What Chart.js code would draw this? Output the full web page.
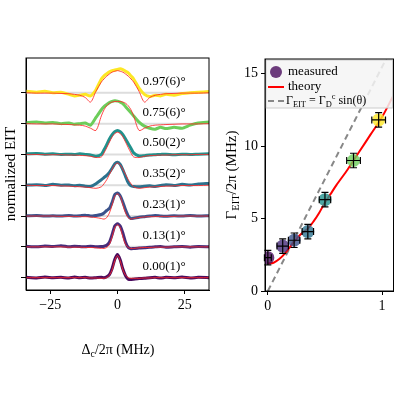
<!DOCTYPE html>
<html>
<head>
<meta charset="utf-8">
<script src="https://cdn.jsdelivr.net/npm/chart.js@4/dist/chart.umd.min.js"></script>
<style>
  body { margin: 0; background: #fff; }
  #wrap { position: relative; width: 400px; height: 400px; }
  .panel { position: absolute; top: 0; height: 400px; }
</style>
</head>
<body>
<div id="wrap">
  <div class="panel" style="left:0;width:215px"><canvas id="left"></canvas></div>
  <div class="panel" style="left:215px;width:185px"><canvas id="right"></canvas></div>
</div>
<script>
const FONT = '"Liberation Serif", "DejaVu Serif", serif'

// detuning grid (MHz)
const xs = [-34, -30, -27, -24, -21, -18, -16, -14, -12, -10, -8, -6, -5, -4, -3, -2, -1, 0,
  1, 2, 3, 4, 5, 6, 8, 10, 12, 14, 16, 18, 21, 24, 27, 30, 34]

const angleLabels = ['0.00(1)°', '0.13(1)°', '0.23(1)°', '0.35(2)°', '0.50(2)°', '0.75(6)°', '0.97(6)°']
const colors = ['#4a0c5e', '#472d7b', '#3b528b', '#2c728e', '#21918c', '#6ccd5a', '#fde725']

const measured = [
  [0.01, -0.01, 0.02, 0.00, 0.01, -0.01, 0.02, 0.00, 0.01, -0.01, 0.00, 0.01, 0.00, 0.03, 0.10, 0.30, 0.60, 0.75, 0.58, 0.28, 0.06, -0.05, -0.06, -0.05, -0.03, -0.02, 0.00, 0.01, -0.01, 0.01, 0.00, 0.02, -0.01, 0.01, 0.00],
  [0.02, 0.00, 0.03, 0.01, 0.04, 0.00, 0.02, 0.01, 0.00, 0.02, 0.00, 0.01, 0.02, 0.05, 0.15, 0.40, 0.68, 0.75, 0.68, 0.45, 0.15, -0.02, -0.06, -0.05, -0.04, -0.03, -0.01, 0.00, 0.01, -0.01, 0.00, 0.01, -0.01, 0.01, 0.00],
  [0.01, 0.02, 0.00, 0.01, 0.00, 0.02, 0.00, 0.01, 0.03, 0.00, 0.02, 0.05, 0.10, 0.18, 0.25, 0.45, 0.70, 0.75, 0.66, 0.45, 0.20, 0.00, -0.08, -0.07, -0.04, -0.02, 0.00, 0.02, 0.00, -0.01, 0.01, 0.00, 0.02, 0.00, 0.01],
  [0.00, 0.02, -0.01, 0.03, 0.00, 0.01, -0.02, 0.00, -0.03, -0.04, 0.05, 0.18, 0.25, 0.32, 0.42, 0.55, 0.70, 0.75, 0.68, 0.50, 0.28, 0.08, -0.02, -0.04, -0.05, -0.03, -0.02, -0.04, -0.01, 0.02, -0.01, 0.03, 0.01, 0.04, 0.06],
  [0.02, 0.03, 0.01, 0.02, 0.00, 0.01, 0.00, 0.02, 0.00, -0.02, -0.06, 0.00, 0.15, 0.32, 0.50, 0.64, 0.74, 0.78, 0.74, 0.64, 0.50, 0.35, 0.20, 0.05, -0.05, -0.04, -0.02, -0.01, 0.00, 0.01, -0.01, 0.01, 0.00, 0.01, 0.02],
  [0.03, 0.05, 0.02, 0.04, 0.00, 0.02, -0.02, 0.00, 0.02, -0.05, 0.20, 0.45, 0.55, 0.62, 0.68, 0.72, 0.74, 0.73, 0.70, 0.65, 0.55, 0.45, 0.35, 0.25, 0.05, -0.08, -0.15, -0.18, -0.12, -0.16, -0.12, -0.15, -0.05, 0.02, 0.05],
  [0.05, 0.02, 0.05, 0.00, 0.02, -0.05, -0.10, -0.08, -0.05, -0.10, 0.10, 0.45, 0.55, 0.62, 0.68, 0.72, 0.74, 0.76, 0.78, 0.75, 0.70, 0.65, 0.55, 0.45, 0.15, -0.05, -0.12, -0.08, -0.10, -0.05, -0.08, -0.02, 0.00, 0.02, 0.04]
]

const theory = [
  [0, 0, 0, 0, 0, 0, 0, 0, 0, -0.01, -0.01, -0.02, -0.02, 0.00, 0.08, 0.25, 0.55, 0.72, 0.55, 0.25, 0.08, 0.00, -0.02, -0.02, -0.02, -0.01, -0.01, 0, 0, 0, 0, 0, 0, 0, 0],
  [0, 0, 0, 0, 0, -0.01, -0.01, -0.01, -0.02, -0.02, -0.03, -0.05, -0.05, -0.02, 0.08, 0.32, 0.62, 0.72, 0.62, 0.32, 0.08, -0.02, -0.05, -0.05, -0.03, -0.02, -0.02, -0.01, -0.01, -0.01, 0, 0, 0, 0, 0],
  [0, 0, 0, 0, -0.01, -0.01, -0.01, -0.02, -0.02, -0.03, -0.05, -0.08, -0.10, -0.05, 0.10, 0.36, 0.64, 0.72, 0.64, 0.36, 0.10, -0.05, -0.10, -0.08, -0.05, -0.03, -0.02, -0.02, -0.01, -0.01, -0.01, 0, 0, 0, 0],
  [0, -0.01, -0.01, -0.01, -0.02, -0.03, -0.04, -0.05, -0.06, -0.08, -0.10, -0.05, 0.05, 0.18, 0.35, 0.52, 0.66, 0.72, 0.66, 0.52, 0.35, 0.18, 0.05, -0.05, -0.10, -0.08, -0.06, -0.05, -0.04, -0.03, -0.02, -0.01, -0.01, -0.01, 0],
  [0, 0, -0.01, -0.01, -0.01, -0.02, -0.02, -0.03, -0.04, -0.06, -0.10, -0.08, 0.05, 0.22, 0.40, 0.57, 0.68, 0.72, 0.68, 0.57, 0.40, 0.22, 0.05, -0.08, -0.10, -0.06, -0.04, -0.03, -0.02, -0.02, -0.01, -0.01, -0.01, 0, 0],
  [0, -0.01, -0.01, -0.01, -0.02, -0.03, -0.04, -0.05, -0.08, -0.15, -0.22, 0.25, 0.45, 0.58, 0.66, 0.70, 0.72, 0.72, 0.72, 0.70, 0.66, 0.58, 0.45, 0.25, -0.22, -0.15, -0.08, -0.05, -0.04, -0.03, -0.02, -0.01, -0.01, -0.01, 0],
  [0, -0.01, -0.01, -0.01, -0.02, -0.03, -0.05, -0.08, -0.15, -0.30, 0.05, 0.35, 0.45, 0.54, 0.61, 0.67, 0.70, 0.72, 0.70, 0.67, 0.61, 0.54, 0.45, 0.35, 0.05, -0.30, -0.15, -0.08, -0.05, -0.03, -0.02, -0.01, -0.01, -0.01, 0]
]

const xTicksLeft = [-25, 0, 25]

// right panel
const theta = [0, 0.13, 0.23, 0.35, 0.50, 0.75, 0.97]
const gammaEIT = [2.3, 3.1, 3.5, 4.1, 6.3, 9.0, 11.8]
const thetaErr = [0.03, 0.05, 0.05, 0.05, 0.05, 0.06, 0.06]
const gammaErr = [0.5, 0.5, 0.5, 0.5, 0.5, 0.5, 0.5]
const theoryTheta = [0, 0.05, 0.1, 0.15, 0.2, 0.25, 0.3, 0.35, 0.4, 0.45, 0.5, 0.55, 0.6, 0.7, 0.8, 0.9, 1.0, 1.1]
const theoryGamma = [1.9, 1.95, 2.2, 2.6, 3.1, 3.6, 4.0, 4.3, 4.8, 5.4, 6.1, 6.7, 7.3, 8.4, 9.6, 10.8, 12.0, 13.5]
const linearTheta = [0, 1.1]
const linearGamma = [0, 17]

function rich (ctx, parts, x, y, size) {
  const small = size * 0.7
  let w = 0
  parts.forEach(p => {
    ctx.font = (p.s ? small : size) + 'px ' + FONT
    w += ctx.measureText(p.t).width
  })
  let cx = x - w / 2
  ctx.textAlign = 'left'
  ctx.textBaseline = 'middle'
  parts.forEach(p => {
    ctx.font = (p.s ? small : size) + 'px ' + FONT
    const dy = p.s === 'sub' ? size * 0.3 : p.s === 'sup' ? -size * 0.35 : 0
    ctx.fillText(p.t, cx, y + dy)
    cx += ctx.measureText(p.t).width
  })
}

function frame (chart) {
  const { ctx, chartArea: a } = chart
  ctx.save()
  ctx.strokeStyle = '#000'
  ctx.lineWidth = 1
  ctx.strokeRect(a.left, a.top, a.right - a.left, a.bottom - a.top)
  ctx.restore()
}

const tickFont = { family: FONT, size: 14 }

// ---- left panel
const leftDatasets = []
measured.forEach((m, i) => {
  leftDatasets.push({
    data: [{ x: xs[0], y: i }, { x: xs[xs.length - 1], y: i }],
    borderColor: '#dddddd', borderWidth: 2, order: 3
  })
  leftDatasets.push({
    data: xs.map((x, k) => ({ x, y: i + m[k] })),
    borderColor: colors[i], borderWidth: 3, order: 2, tension: 0.2
  })
  leftDatasets.push({
    data: xs.map((x, k) => ({ x, y: i + theory[i][k] })),
    borderColor: 'rgba(255,40,40,0.85)', borderWidth: 1, order: 1, tension: 0.3
  })
})

new Chart(document.getElementById('left'), {
  type: 'line',
  data: { datasets: leftDatasets },
  options: {
    responsive: true,
    maintainAspectRatio: false,
    animation: false,
    elements: { point: { radius: 0 } },
    layout: { padding: { top: 58, right: 6, bottom: 0, left: 0 } },
    plugins: { legend: { display: false }, tooltip: { enabled: false } },
    scales: {
      x: {
        type: 'linear', min: -34, max: 34,
        afterBuildTicks: s => { s.ticks = xTicksLeft.map(v => ({ value: v })) },
        afterFit: s => { s.height = 110; s.paddingLeft = 0; s.paddingRight = 0 },
        ticks: { font: tickFont, color: '#000', callback: v => String(v).replace('-', '−') },
        grid: { drawOnChartArea: false, color: '#000', tickLength: 4 },
        border: { color: '#000' }
      },
      y: {
        type: 'linear', min: -0.4, max: 7.13,
        afterBuildTicks: s => { s.ticks = angleLabels.map((_, i) => ({ value: i })) },
        afterFit: s => { s.width = 26 },
        ticks: { display: false },
        grid: { drawOnChartArea: false, color: '#000', tickLength: 5 },
        border: { color: '#000' }
      }
    }
  },
  plugins: [{
    id: 'leftDeco',
    afterDraw (chart) {
      const { ctx, scales: { x, y } } = chart
      frame(chart)
      ctx.save()
      ctx.fillStyle = '#000'
      ctx.font = '13px ' + FONT
      ctx.textAlign = 'left'
      ctx.textBaseline = 'middle'
      angleLabels.forEach((t, i) => ctx.fillText(t, x.getPixelForValue(9.3), y.getPixelForValue(i + 0.37)))
      rich(ctx, [{ t: 'Δ' }, { t: 'c', s: 'sub' }, { t: '/2π (MHz)' }], 118, 350, 14)
      ctx.translate(11, 174)
      ctx.rotate(-Math.PI / 2)
      rich(ctx, [{ t: 'normalized EIT' }], 0, 0, 15)
      ctx.restore()
    }
  }]
})

// ---- right panel
new Chart(document.getElementById('right'), {
  type: 'scatter',
  data: {
    datasets: [
      {
        type: 'line',
        data: linearTheta.map((t, i) => ({ x: t, y: linearGamma[i] })),
        borderColor: '#888', borderWidth: 2, borderDash: [6, 4], pointRadius: 0, order: 3
      },
      {
        type: 'line',
        data: theoryTheta.map((t, i) => ({ x: t, y: theoryGamma[i] })),
        borderColor: '#ff0000', borderWidth: 2, pointRadius: 0, tension: 0.3, order: 2
      },
      {
        data: theta.map((t, i) => ({ x: t, y: gammaEIT[i] })),
        backgroundColor: colors.map(c => c + 'cc'),
        borderWidth: 0, pointRadius: 6.5, order: 1
      }
    ]
  },
  options: {
    responsive: true,
    maintainAspectRatio: false,
    animation: false,
    layout: { padding: { top: 59, right: 1, bottom: 0, left: 0 } },
    plugins: { legend: { display: false }, tooltip: { enabled: false } },
    scales: {
      x: {
        type: 'linear', min: -0.025, max: 1.1,
        afterBuildTicks: s => { s.ticks = [0, 1].map(v => ({ value: v })) },
        afterFit: s => { s.height = 109; s.paddingLeft = 0; s.paddingRight = 0 },
        ticks: { font: tickFont, color: '#000' },
        grid: { drawOnChartArea: false, color: '#000', tickLength: 4 },
        border: { color: '#000' }
      },
      y: {
        type: 'linear', min: 0, max: 16,
        afterBuildTicks: s => { s.ticks = [0, 5, 10, 15].map(v => ({ value: v })) },
        afterFit: s => { s.width = 50 },
        ticks: { font: tickFont, color: '#000' },
        grid: { drawOnChartArea: false, color: '#000', tickLength: 4 },
        border: { color: '#000' }
      }
    }
  },
  plugins: [{
    id: 'rightDeco',
    afterDatasetsDraw (chart) {
      const { ctx, scales: { x, y } } = chart
      ctx.save()
      ctx.strokeStyle = '#000'
      ctx.lineWidth = 1.2
      theta.forEach((t, i) => {
        const px = x.getPixelForValue(t), py = y.getPixelForValue(gammaEIT[i])
        const x0 = x.getPixelForValue(t - thetaErr[i]), x1 = x.getPixelForValue(t + thetaErr[i])
        const y0 = y.getPixelForValue(gammaEIT[i] - gammaErr[i]), y1 = y.getPixelForValue(gammaEIT[i] + gammaErr[i])
        ctx.beginPath()
        ctx.moveTo(x0, py); ctx.lineTo(x1, py)
        ctx.moveTo(px, y0); ctx.lineTo(px, y1)
        ctx.moveTo(x0, py - 3.5); ctx.lineTo(x0, py + 3.5)
        ctx.moveTo(x1, py - 3.5); ctx.lineTo(x1, py + 3.5)
        ctx.moveTo(px - 3.5, y0); ctx.lineTo(px + 3.5, y0)
        ctx.moveTo(px - 3.5, y1); ctx.lineTo(px + 3.5, y1)
        ctx.stroke()
      })
      ctx.restore()
    },
    afterDraw (chart) {
      const { ctx, chartArea: a } = chart
      ctx.save()
      // legend
      ctx.fillStyle = 'rgba(245,245,245,0.85)'
      ctx.strokeStyle = '#cccccc'
      ctx.fillRect(a.left + 1, a.top + 1, a.right - a.left - 2, 48)
      ctx.strokeRect(a.left + 1, a.top + 1, a.right - a.left - 2, 48)
      ctx.fillStyle = colors[0] + 'cc'
      ctx.beginPath(); ctx.arc(a.left + 11, a.top + 13, 6, 0, Math.PI * 2); ctx.fill()
      ctx.lineWidth = 2
      ctx.strokeStyle = '#ff0000'
      ctx.beginPath(); ctx.moveTo(a.left + 3, a.top + 28); ctx.lineTo(a.left + 19, a.top + 28); ctx.stroke()
      ctx.strokeStyle = '#888'
      ctx.setLineDash([6, 4])
      ctx.beginPath(); ctx.moveTo(a.left + 3, a.top + 42); ctx.lineTo(a.left + 19, a.top + 42); ctx.stroke()
      ctx.setLineDash([])
      ctx.fillStyle = '#000'
      ctx.font = '13px ' + FONT
      ctx.textAlign = 'left'
      ctx.textBaseline = 'middle'
      ctx.fillText('measured', a.left + 23, a.top + 13)
      ctx.fillText('theory', a.left + 23, a.top + 28)
      const parts = [{ t: 'Γ' }, { t: 'EIT', s: 'sub' }, { t: ' = Γ' }, { t: 'D', s: 'sub' }, { t: 'c', s: 'sup' }, { t: ' sin(θ)' }]
      let w = 0
      parts.forEach(p => { ctx.font = (p.s ? 8.4 : 12) + 'px ' + FONT; w += ctx.measureText(p.t).width })
      rich(ctx, parts, a.left + 23 + w / 2 - 2, a.top + 42, 12)
      frame(chart)
      rich(ctx, [{ t: 'θ (degrees)' }], 333, 332, 15)
      ctx.translate(17, 175)
      ctx.rotate(-Math.PI / 2)
      rich(ctx, [{ t: 'Γ' }, { t: 'EIT', s: 'sub' }, { t: '/2π (MHz)' }], 0, 0, 15)
      ctx.restore()
    }
  }]
})
</script>
</body>
</html>
